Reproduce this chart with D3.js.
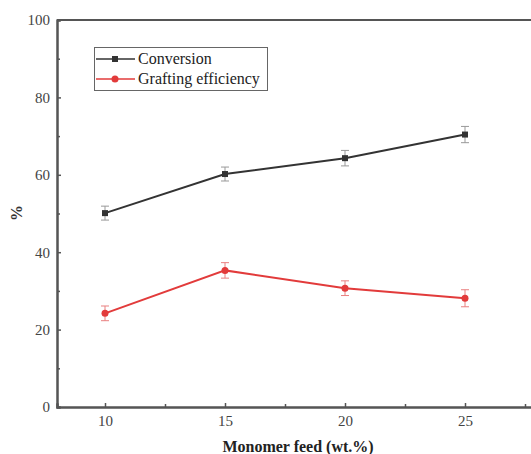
<!DOCTYPE html>
<head>
<meta charset="utf-8">
<script src="https://d3js.org/d3.v7.min.js"></script>
<style>
  body { margin: 0; background: #fff; }
  text { font-family: "Liberation Serif", "Times New Roman", serif; }
</style>
</head>
<body>
<div id="vis-canvas"></div>
<script>
// data
const feeds = [10, 15, 20, 25];
const conversion = [50.1, 60.2, 64.3, 70.4];
const conversionErr = [1.8, 1.8, 2.0, 2.1];
const grafting = [24.2, 35.3, 30.7, 28.1];
const graftingErr = [1.9, 2.0, 1.9, 2.2];
const xMajor = [10, 15, 20, 25];
const xMinor = [12.5, 17.5, 22.5, 27.5];
const yMajor = [0, 20, 40, 60, 80, 100];
const yMinor = [10, 30, 50, 70, 90];

const W = 531, H = 454;
const plot = { left: 57, top: 20, bottom: 407, right: 537 };

const svg = d3.select("#vis-canvas").append("svg")
    .attr("width", W).attr("height", H);

const x = d3.scaleLinear().domain([8, 28]).range([plot.left, plot.right]);
const y = d3.scaleLinear().domain([0, 100]).range([plot.bottom, plot.top]);

//---------------------------AXES-----------------------------//
const axisCol = "#555";
const yAxis = svg.append("g")
    .attr("transform", "translate(" + plot.left + ",0)")
    .call(d3.axisLeft(y).tickValues(yMajor).tickSize(-4).tickPadding(7));
yAxis.append("g").call(d3.axisLeft(y).tickValues(yMinor).tickSize(-3).tickFormat(""));

const xAxis = svg.append("g")
    .attr("transform", "translate(0," + plot.bottom + ")")
    .call(d3.axisBottom(x).tickValues(xMajor).tickSize(-4).tickPadding(8));
xAxis.append("g").call(d3.axisBottom(x).tickValues(xMinor).tickSize(-3).tickFormat(""));

svg.selectAll(".domain").attr("stroke", axisCol).attr("stroke-width", 2);
svg.selectAll(".tick line").attr("stroke", axisCol).attr("stroke-width", 1.5);
svg.selectAll(".tick text")
    .attr("fill", "#444")
    .style("font-size", "15px")
    .style("font-family", "'Liberation Serif', serif");

// top frame
svg.append("line")
    .attr("x1", plot.left).attr("x2", plot.right)
    .attr("y1", plot.top).attr("y2", plot.top)
    .attr("stroke", axisCol).attr("stroke-width", 2);

svg.append("text")
    .attr("x", 298).attr("y", 452)
    .attr("text-anchor", "middle")
    .style("font-size", "16px").style("font-weight", "bold")
    .attr("fill", "#222")
    .text("Monomer feed (wt.%)");

svg.append("text")
    .attr("transform", "translate(22,213) rotate(-90)")
    .attr("text-anchor", "middle")
    .style("font-size", "16px").style("font-weight", "bold")
    .attr("fill", "#333")
    .text("%");

//--------------------------SERIES----------------------------//
const series = [
  { name: "Conversion", vals: conversion, err: conversionErr, color: "#333", shape: "square" },
  { name: "Grafting efficiency", vals: grafting, err: graftingErr, color: "#e23b3b", shape: "circle" }
];

const line = d3.line()
    .x(function(d) { return x(d.feed); })
    .y(function(d) { return y(d.v); });

function drawMarker(g, shape, color, cx, cy) {
  if (shape === "square") {
    g.append("rect")
      .attr("x", cx - 3).attr("y", cy - 3)
      .attr("width", 6).attr("height", 6)
      .attr("fill", color);
  } else {
    g.append("circle")
      .attr("cx", cx).attr("cy", cy).attr("r", 3.5)
      .attr("fill", color);
  }
}

series.forEach(function(s) {
  const pts = feeds.map(function(f, i) { return { feed: f, v: s.vals[i], e: s.err[i] }; });
  const g = svg.append("g");
  const errCol = s.shape === "square" ? "#999" : "#e98080";

  pts.forEach(function(p) {
    const xc = x(p.feed), y1 = y(p.v + p.e), y2 = y(p.v - p.e);
    g.append("line").attr("x1", xc).attr("x2", xc).attr("y1", y1).attr("y2", y2)
      .attr("stroke", errCol).attr("stroke-width", 1);
    [y1, y2].forEach(function(yy) {
      g.append("line").attr("x1", xc - 4).attr("x2", xc + 4).attr("y1", yy).attr("y2", yy)
        .attr("stroke", errCol).attr("stroke-width", 1);
    });
  });

  g.append("path")
    .attr("d", line(pts))
    .attr("fill", "none")
    .attr("stroke", s.color)
    .attr("stroke-width", 2);

  pts.forEach(function(p) { drawMarker(g, s.shape, s.color, x(p.feed), y(p.v)); });
});

//--------------------------LEGEND----------------------------//
const legend = svg.append("g");
legend.append("rect")
    .attr("x", 94.5).attr("y", 47.5).attr("width", 173).attr("height", 43)
    .attr("fill", "#fff").attr("stroke", "#666").attr("stroke-width", 1);

series.forEach(function(s, i) {
  const ly = 59 + i * 20;
  legend.append("line")
    .attr("x1", 96).attr("x2", 135).attr("y1", ly).attr("y2", ly)
    .attr("stroke", s.color).attr("stroke-width", 1.5);
  drawMarker(legend, s.shape, s.color, 115, ly);
  legend.append("text")
    .attr("x", 138).attr("y", ly + 5)
    .style("font-size", "16px")
    .attr("fill", "#222")
    .text(s.name);
});
</script>
</div>
</body>
